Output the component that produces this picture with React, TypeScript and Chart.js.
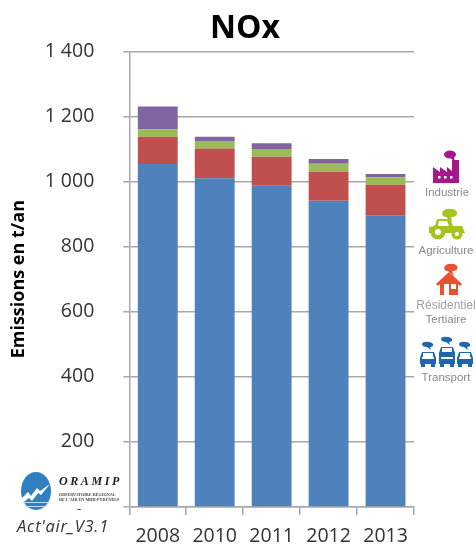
import React, { useEffect, useRef } from "react";
import { Chart, registerables } from "chart.js";

Chart.register(...registerables);

const years = ["2008", "2010", "2011", "2012", "2013"];
const transport = [1054, 1010, 987, 941, 895];
const residentiel = [84, 92, 89, 89, 95];
const agriculture = [23, 23, 24, 25, 23];
const industrie = [70, 13, 18, 14, 10];
const yTickLabels: Record<number, string> = { 0: "", 200: "200", 400: "400", 600: "600", 800: "800", 1000: "1 000", 1200: "1 200", 1400: "1 400" };

const font = "'Open Sans', sans-serif";
const grey = "#a8a8a8";
const iconBlur: React.CSSProperties = { filter: "blur(0.35px)" };

const label = (text: string, left: number, top: number, width: number, extra: React.CSSProperties = {}) => (
  <div style={{ position: "absolute", left, top, width, textAlign: "center", font: "11.5px 'Liberation Sans', sans-serif", color: "#8a8a8a", lineHeight: "14px", ...extra }}>{text}</div>
);

const shiftTitle = {
  id: "shiftTitle",
  afterLayout(chart: any) {
    const t = chart.titleBlock;
    if (t) { t.left += 34; t.right += 34; }
  },
};

export default function App() {
  const ref = useRef<HTMLCanvasElement>(null);
  useEffect(() => {
    const chart = new Chart(ref.current!, {
      type: "bar",
      plugins: [shiftTitle],
      data: {
        labels: years,
        datasets: [
          { label: "Transport", data: transport, backgroundColor: "#4f81bd" },
          { label: "Résidentiel Tertiaire", data: residentiel, backgroundColor: "#c0504d" },
          { label: "Agriculture", data: agriculture, backgroundColor: "#9bbb59" },
          { label: "Industrie", data: industrie, backgroundColor: "#8064a2" },
        ],
      },
      options: {
        responsive: false,
        animation: false,
        layout: { padding: { left: 8, right: 62, top: 0, bottom: 0 } },
        datasets: { bar: { categoryPercentage: 1, barPercentage: 0.7 } },
        plugins: {
          legend: { display: false },
          tooltip: { enabled: false },
          title: {
            display: true,
            text: "NOx",
            color: "#000",
            font: { family: font, size: 32, weight: "bold" },
            padding: { top: 10, bottom: 3 },
          },
        },
        scales: {
          x: {
            stacked: true,
            afterFit: (s: any) => { s.height = 38; },
            grid: { drawOnChartArea: false, drawTicks: true, tickLength: 8, color: grey, lineWidth: 1.5 },
            border: { color: grey, width: 1.5 },
            ticks: { color: "#333333", font: { family: font, size: 19.5 }, padding: 9.5, maxRotation: 0 },
          },
          y: {
            stacked: true,
            min: 0,
            max: 1400,
            afterFit: (s: any) => { s.width = 121.3; s.paddingBottom = 0; },
            grid: { color: grey, lineWidth: 1.5, tickLength: 6 },
            border: { color: grey, width: 1.5 },
            title: { display: true, text: "Emissions en t/an", color: "#000", font: { family: font, size: 18, weight: "bold" }, padding: { top: 0, bottom: 0 } },
            ticks: {
              stepSize: 200,
              padding: 29,
              color: "#333333",
              font: { family: font, size: 19.5 },
              callback: (v: any) => yTickLabels[v as number] ?? "",
            },
          },
        },
      },
    });
    return () => chart.destroy();
  }, []);

  return (
    <div style={{ position: "fixed", left: 0, top: 0, width: 476, height: 545, background: "#fff", overflow: "hidden" }}>
      <canvas ref={ref} width={476} height={545} style={{ display: "block" }} />

      {/* Industrie */}
      <svg style={{ position: "absolute", left: 433, top: 150, ...iconBlur }} width="27" height="33" viewBox="0 0 27 33">
        <path d="M0 33V17l7 5v-5l7 5v-5l5 4V10h7v23z" fill="#a5178a" />
        <ellipse cx="17" cy="4.5" rx="6" ry="4" fill="#a5178a" />
        <path d="M17 7l5 6-1-6z" fill="#a5178a" />
        <rect x="5" y="26" width="2.5" height="2.5" fill="#fff" /><rect x="11" y="26" width="2.5" height="2.5" fill="#fff" /><rect x="17" y="26" width="2.5" height="2.5" fill="#fff" />
      </svg>
      {label("Industrie", 417, 185, 60)}

      {/* Agriculture */}
      <svg style={{ position: "absolute", left: 429, top: 208, ...iconBlur }} width="36" height="32" viewBox="0 0 36 32">
        <path d="M14 3c3-3 12-3 14 1 1 3-2 5-6 5l1 5-6-5c-3 0-5-3-3-6z" fill="#a4c520" />
        <path d="M8 11h13l3 7h9l3 7H0v-6l6-1z" fill="#a4c520" />
        <circle cx="9" cy="24" r="7.5" fill="#a4c520" /><circle cx="9" cy="24" r="3" fill="#fff" />
        <circle cx="28" cy="26" r="5.5" fill="#a4c520" /><circle cx="28" cy="26" r="2" fill="#fff" />
        <path d="M10 13h8l2 5H9z" fill="#fff" />
      </svg>
      {label("Agriculture", 416, 243, 60)}

      {/* Résidentiel */}
      <svg style={{ position: "absolute", left: 436, top: 263, ...iconBlur }} width="26" height="32" viewBox="0 0 26 32">
        <path d="M9 3c2-3 10-3 12 0 2 3-1 5-5 5l2 5-6-5c-3 0-5-2-3-5z" fill="#e8502f" />
        <path d="M13 9L0 21l2 2 2-2v11h18V21l2 2 2-2z" fill="#e8502f" />
        <rect x="8" y="21" width="5" height="11" fill="#fff" /><rect x="15" y="21" width="5" height="5" fill="#fff" />
      </svg>
      {label("Résidentiel", 416, 298, 60, { color: "#a0a0a0", fontSize: 12 })}
      {label("Tertiaire", 416, 312, 60)}

      {/* Transport */}
      <svg style={{ position: "absolute", left: 419, top: 336, ...iconBlur }} width="55" height="31" viewBox="0 0 55 31">
        {[[0, 5], [19, 0], [37, 5]].map(([x, y], i) => (
          <g key={i} fill="#1f66ae">
            <path d={`M${x + 3} ${y + 3}c0-3 9-3 11 0 1 2-1 3-3 3l1 3-4-3c-3 0-5-1-5-3z`} />
            <path d={`M${x + 1} ${y + 17}l2-6h12l2 6v${11 - y}H${x + 1}z`} />
            <rect x={x + 4} y={y + 12} width="10" height="4" fill="#fff" />
            <rect x={x + 3} y={21} width="12" height="2" fill="#fff" />
            <rect x={x + 2} y={27} width="4" height="4" /><rect x={x + 12} y={27} width="4" height="4" />
          </g>
        ))}
      </svg>
      {label("Transport", 416, 370, 60)}

      {/* Logo */}
      <svg style={{ position: "absolute", left: 17, top: 471, ...iconBlur }} width="37" height="40" viewBox="0 0 37 40">
        <ellipse cx="19" cy="20" rx="15" ry="19" fill="#2f7fc1" />
        <path d="M1 31l10-10 3 4 6-8 3 3 10-7-9 11-3-2-6 8-3-3-8 6z" fill="#fff" />
        <path d="M6 31h26v1H6zM9 35h20v1H9z" fill="#bcdcf2" />
      </svg>
      <div style={{ position: "absolute", left: 59, top: 474, font: "italic bold 12px 'Liberation Serif', serif", letterSpacing: "2.6px", color: "#222", whiteSpace: "nowrap" }}>ORAMIP</div>
      <div style={{ position: "absolute", left: 59, top: 493, font: "bold 4.2px 'Liberation Serif', serif", lineHeight: "4.5px", color: "#444", whiteSpace: "nowrap" }}>
        OBSERVATOIRE RÉGIONAL<br />DE L'AIR EN MIDI-PYRÉNÉES
      </div>
      <div style={{ position: "absolute", left: 77, top: 499, font: "13px 'Open Sans', sans-serif", color: "#333" }}>-</div>
      <div style={{ position: "absolute", left: 17, top: 514, font: "italic 16.5px 'Open Sans', sans-serif", letterSpacing: "0.7px", color: "#333", whiteSpace: "nowrap" }}>Act'air_V3.1</div>
    </div>
  );
}
